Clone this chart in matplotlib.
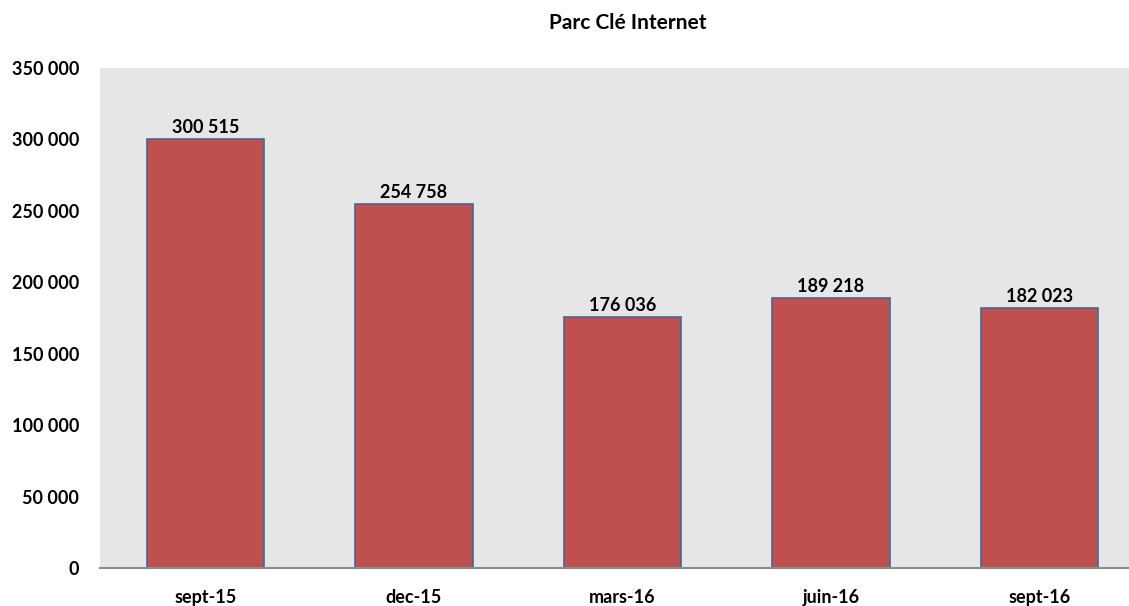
import matplotlib.pyplot as plt

plt.rcParams['font.family'] = ['Lato', 'DejaVu Sans']

categories = ['sept-15', 'dec-15', 'mars-16', 'juin-16', 'sept-16']
values = [300515, 254758, 176036, 189218, 182023]
yticks = [0, 50000, 100000, 150000, 200000, 250000, 300000, 350000]


def fmt(v):
    return f'{v:,}'.replace(',', ' ')


fig = plt.figure(figsize=(11.29, 6.06), dpi=100)
ax = fig.add_axes([0.0886, 0.0627, 0.9114, 0.8251])
ax.set_facecolor('#E6E6E6')

x = range(len(categories))
bars = ax.bar(x, values, width=0.564, color='#C0504D', edgecolor='#3F6A9A', linewidth=1.2, zorder=2)
for b, v in zip(bars, values):
    ax.annotate(fmt(v), (b.get_x() + b.get_width() / 2, v), xytext=(0, 2),
                textcoords='offset points', ha='center', va='bottom',
                fontsize=13, fontweight='bold')

ax.set_xlim(-0.506, 4.43)
ax.set_ylim(0, 350000)
ax.set_xticks(list(x))
ax.set_xticklabels(categories, fontsize=13, fontweight='bold')
ax.set_yticks(yticks)
ax.set_yticklabels([fmt(t) for t in yticks], fontsize=13, fontweight='bold')
ax.tick_params(length=0)
ax.tick_params(axis='x', pad=15)
ax.tick_params(axis='y', pad=15)

for s in ['top', 'right', 'left']:
    ax.spines[s].set_visible(False)
ax.spines['bottom'].set_color('#8C8C8C')
ax.spines['bottom'].set_linewidth(1.5)

fig.text(0.556, 0.962, 'Parc Clé Internet', ha='center', va='center',
         fontsize=15, fontweight='bold')

fig.savefig('out.png', dpi=100)
